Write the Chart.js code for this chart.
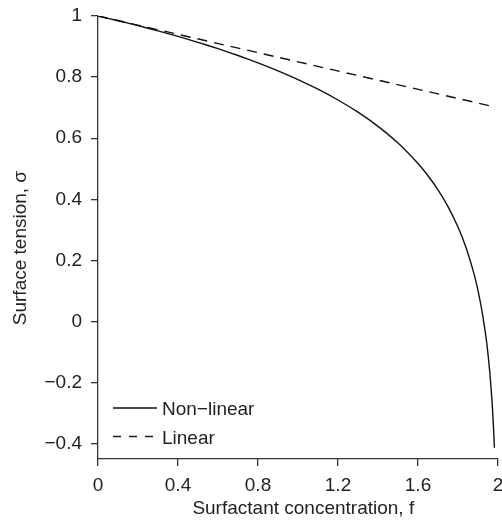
<!DOCTYPE html>
<html>
<head>
<meta charset="utf-8">
<script src="https://cdn.jsdelivr.net/npm/chart.js@4"></script>
<style>
  html, body { margin: 0; padding: 0; background: #fff; }
  #wrap { width: 502px; height: 520px; }
</style>
</head>
<body>
<div id="wrap"><canvas id="chart"></canvas></div>
<script>
// Surfactant concentration f
const concNonLinear = [0, 0.1, 0.2, 0.3, 0.4, 0.5, 0.6, 0.7, 0.8, 0.9, 1.0, 1.1, 1.2, 1.3, 1.4, 1.5,
  1.6, 1.65, 1.7, 1.75, 1.8, 1.84, 1.88, 1.9, 1.92, 1.94, 1.95, 1.96, 1.97, 1.975, 1.98, 1.982];
// Surface tension sigma (non-linear)
const sigmaNonLinear = [1, 0.9846, 0.9684, 0.9512, 0.9331, 0.9137, 0.893, 0.8708, 0.8468, 0.8206, 0.7921,
  0.7604, 0.7251, 0.6851, 0.6388, 0.5841, 0.5172, 0.4771, 0.4309, 0.3762, 0.3092, 0.2423, 0.156,
  0.1013, 0.0343, -0.052, -0.1067, -0.1736, -0.2599, -0.3146, -0.3816, -0.4132];
// Linear model
const concLinear = [0, 1.98];
const sigmaLinear = [1, 0.703];

const xTicks = [0, 0.4, 0.8, 1.2, 1.6, 2];
const yTicks = [-0.4, -0.2, 0, 0.2, 0.4, 0.6, 0.8, 1];

const FONT = '"Liberation Sans", Arial, Helvetica, sans-serif';
const SIZE = 19;
const INK = '#222';

const toPoints = (xs, ys) => xs.map((x, i) => ({ x, y: ys[i] }));
const fmt = v => {
  const r = Math.round(v * 10) / 10;
  return (r < 0 ? '\u2212' : '') + Math.abs(r);
};

// legend drawn inside the plot, lower left
const insideLegend = {
  id: 'insideLegend',
  afterDraw(chart) {
    const { ctx, chartArea } = chart;
    const rows = [chart.data.datasets[0], chart.data.datasets[1]];
    ctx.save();
    ctx.font = SIZE + 'px ' + FONT;
    ctx.textBaseline = 'middle';
    rows.forEach((ds, i) => {
      const y = chartArea.bottom - 51 + i * 28.5;
      const x0 = chartArea.left + 15;
      ctx.strokeStyle = ds.borderColor;
      ctx.lineWidth = ds.borderWidth;
      ctx.setLineDash(i === 1 ? [8, 8] : []);
      ctx.beginPath();
      ctx.moveTo(x0, y);
      ctx.lineTo(x0 + 44, y);
      ctx.stroke();
      ctx.setLineDash([]);
      ctx.fillStyle = INK;
      ctx.fillText(ds.label, x0 + 49, y + 2);
    });
    ctx.restore();
  }
};

new Chart(document.getElementById('chart'), {
  type: 'scatter',
  data: {
    datasets: [
      {
        label: 'Non\u2212linear',
        data: toPoints(concNonLinear, sigmaNonLinear),
        showLine: true,
        borderColor: '#111',
        borderWidth: 1.4,
        pointRadius: 0,
        tension: 0.2
      },
      {
        label: 'Linear',
        data: toPoints(concLinear, sigmaLinear),
        showLine: true,
        borderColor: '#111',
        borderWidth: 1.4,
        borderDash: [10, 7],
        pointRadius: 0
      }
    ]
  },
  options: {
    responsive: true,
    maintainAspectRatio: false,
    animation: false,
    layout: { padding: { top: 16, right: 4, left: 0, bottom: 0 } },
    plugins: { legend: { display: false }, tooltip: { enabled: false } },
    scales: {
      x: {
        type: 'linear',
        min: 0, max: 2,
        afterBuildTicks: s => { s.ticks = xTicks.map(v => ({ value: v })); },
        afterFit: s => { s.height = 61; s.paddingLeft = 0; s.paddingRight = 0; },
        border: { display: true, color: '#333', width: 1.3 },
        grid: { display: true, drawOnChartArea: false, drawTicks: true, tickLength: 7, color: '#333', lineWidth: 1.3 },
        ticks: { color: INK, padding: 8, maxRotation: 0, font: { family: FONT, size: SIZE }, callback: fmt },
        title: { display: true, text: '\u00a0\u00a0Surfactant concentration, f', color: INK, font: { family: FONT, size: SIZE }, padding: { top: 0, bottom: 0 } }
      },
      y: {
        type: 'linear',
        min: -0.45, max: 1,
        afterBuildTicks: s => { s.ticks = yTicks.map(v => ({ value: v })); },
        afterFit: s => { s.width = 98; s.paddingTop = 0; s.paddingBottom = 0; },
        border: { display: true, color: '#333', width: 1.3 },
        grid: { display: true, drawOnChartArea: false, drawTicks: true, tickLength: 7, color: '#333', lineWidth: 1.3 },
        ticks: { color: INK, padding: 9, font: { family: FONT, size: SIZE }, callback: fmt },
        title: { display: true, text: 'Surface tension, \u03c3\u00a0\u00a0\u00a0\u00a0', color: INK, font: { family: FONT, size: SIZE }, padding: { top: 9, bottom: 0 } }
      }
    }
  },
  plugins: [insideLegend]
});
</script>
</body>
</html>
